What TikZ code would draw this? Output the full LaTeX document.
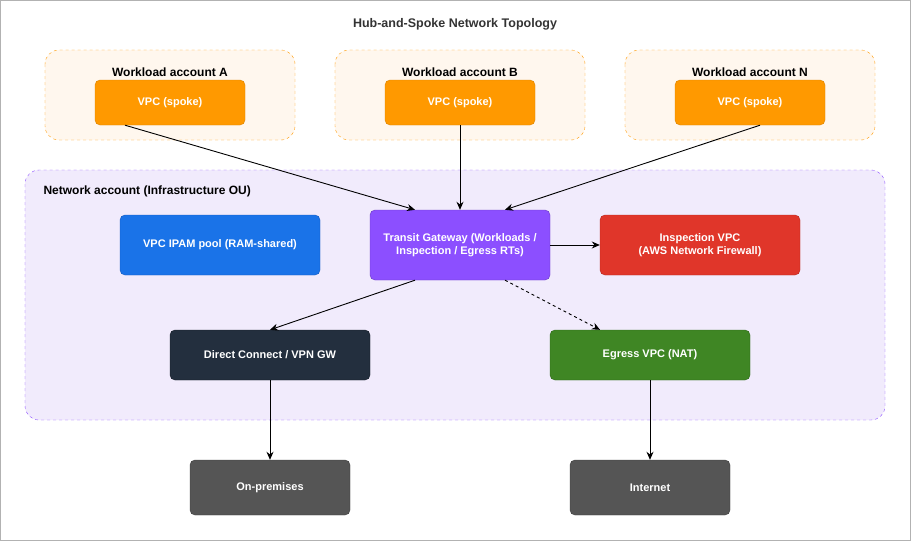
\documentclass[tikz,border=0pt]{standalone}
\usepackage{fontspec}
\setmainfont{Liberation Sans}
\usetikzlibrary{arrows.meta}
\definecolor{spoke}{HTML}{FF9900}
\definecolor{spokeline}{HTML}{D98200}
\definecolor{wlfill}{HTML}{FFF7EE}
\definecolor{netfill}{HTML}{F1EBFC}
\definecolor{netline}{HTML}{8C4FFF}
\begin{document}
\begin{tikzpicture}[x=1pt,y=-1pt,
  box/.style={draw=#1!75!black,fill=#1,rounded corners=5pt,text=white,font=\fontsize{11}{13}\selectfont\bfseries,align=center},
  grp/.style={draw=#1,dashed,rounded corners=14pt},
  arr/.style={-{Stealth[length=8pt,width=7pt]},line width=0.9pt}]
\useasboundingbox (0,0) rectangle (911,541);
\draw[gray!60] (0.5,0.5) rectangle (910.5,540.5);
\node[font=\fontsize{12.5}{14}\selectfont\bfseries,text=black!80] (title) at (455,24) {Hub-and-Spoke Network Topology};
\foreach \n/\x/\t in {a/45/A,b/335/B,n/625/N}{
  \draw[grp=spoke,fill=wlfill] (\x,50) rectangle (\x+250,140);
  \node[font=\fontsize{12}{14}\selectfont\bfseries] (l\n) at (\x+125,72) {Workload account \t};
  \node[box=spoke,draw=spokeline,minimum width=150pt,minimum height=45pt] (v\n) at (\x+125,102.5) {VPC (spoke)};
}
\draw[grp=netline,fill=netfill] (25,170) rectangle (885,420);
\node[font=\fontsize{12}{14}\selectfont\bfseries,anchor=west] (netl) at (40,191) {Network account (Infrastructure OU)};
\node[box={blue!50!cyan!80!black},fill={rgb,255:red,26;green,115;blue,232},draw={rgb,255:red,20;green,90;blue,190},minimum width=200pt,minimum height=60pt] (ipam) at (220,245) {VPC IPAM pool (RAM-shared)};
\node[box=netline,fill={rgb,255:red,140;green,79;blue,255},minimum width=180pt,minimum height=70pt] (tgw) at (460,245) {Transit Gateway (Workloads /\\Inspection / Egress RTs)};
\node[box=red,fill={rgb,255:red,224;green,54;blue,42},draw={rgb,255:red,180;green,40;blue,30},minimum width=200pt,minimum height=60pt] (insp) at (700,245) {Inspection VPC\\(AWS Network Firewall)};
\node[box=black,fill={rgb,255:red,35;green,47;blue,62},draw={rgb,255:red,20;green,28;blue,38},minimum width=200pt,minimum height=50pt] (dx) at (270,355) {Direct Connect / VPN GW};
\node[box=green,fill={rgb,255:red,63;green,134;blue,36},draw={rgb,255:red,45;green,100;blue,25},minimum width=200pt,minimum height=50pt] (eg) at (650,355) {Egress VPC (NAT)};
\node[box=gray,fill={rgb,255:red,85;green,85;blue,85},draw={rgb,255:red,60;green,60;blue,60},minimum width=160pt,minimum height=55pt] (op) at (270,487.5) {On-premises};
\node[box=gray,fill={rgb,255:red,85;green,85;blue,85},draw={rgb,255:red,60;green,60;blue,60},minimum width=160pt,minimum height=55pt] (inet) at (650,487.5) {Internet};
\draw[arr] ([xshift=-45pt]va.south) -- ([xshift=-45pt]tgw.north);
\draw[arr] (vb.south) -- (tgw.north);
\draw[arr] ([xshift=10pt]vn.south) -- ([xshift=45pt]tgw.north);
\draw[arr] (tgw.east) -- (insp.west);
\draw[arr] ([xshift=-45pt]tgw.south) -- (dx.north);
\draw[arr,dashed] ([xshift=45pt]tgw.south) -- ([xshift=-50pt]eg.north);
\draw[arr] (dx.south) -- (op.north);
\draw[arr] (eg.south) -- (inet.north);
\end{tikzpicture}
\end{document}
